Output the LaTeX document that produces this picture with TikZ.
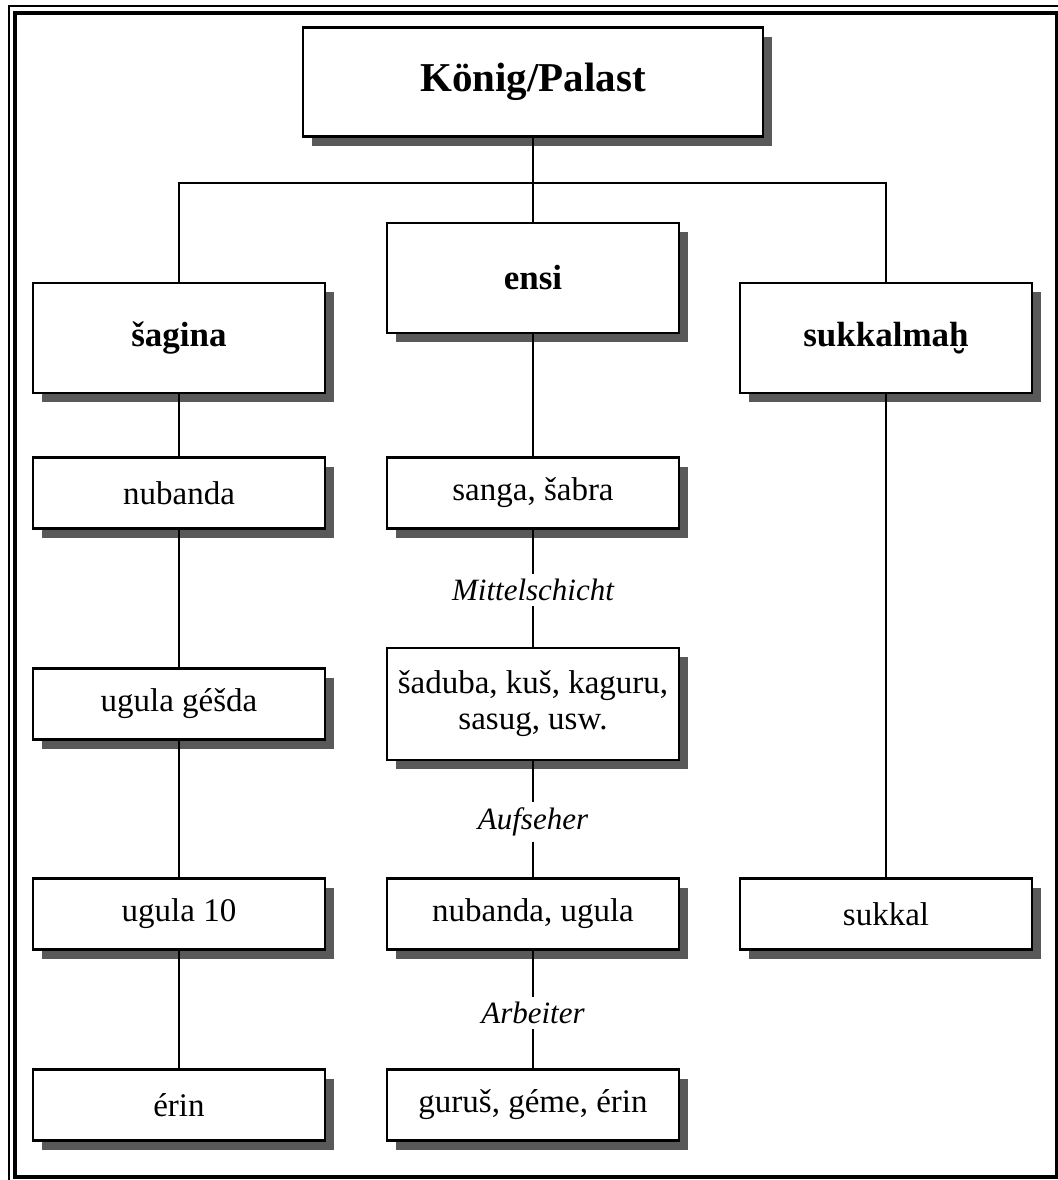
\documentclass[tikz,border=0pt]{standalone}
\usepackage{fontspec}
\setmainfont{Liberation Serif}
\usepackage{tikz}
\usetikzlibrary{shadows}

\begin{document}
\begin{tikzpicture}[
x=0.5pt, y=-0.5pt,
box/.style={draw, line width=1.4pt, fill=white, align=center, minimum width=146pt, minimum height=35.5pt, inner sep=2pt,
  font=\fontsize{16.5}{18}\selectfont,
  drop shadow={shadow xshift=4.5pt, shadow yshift=-4.5pt, fill=black!65, opacity=1}},
head/.style={box, minimum height=55pt, font=\fontsize{17.5}{20}\selectfont\bfseries},
layer/.style={inner sep=2.5pt, font=\fontsize{15.5}{18}\selectfont\itshape},
link/.style={line width=1.1pt}
]
\useasboundingbox (0,0) rectangle (1058,1180);
\draw[line width=0.8pt] (9,1180) -- (9,6) -- (1058,6);
\draw[line width=2pt] (15,13) rectangle (1057,1177);

\node[head, minimum width=230pt, minimum height=54.5pt, font=\fontsize{20.5}{24}\selectfont\bfseries] (koenig) at (533,82) {König/Palast};
\coordinate (fork) at (533,183);
\node[head] (sagina) at (179,338) {šagina};
\node[head] (ensi) at (533,278) {ensi};
\node[head] (sukkalmah) at (886,338) {sukkalmaḫ};

\node[box] (nubanda) at (179,493) {nubanda};
\node[box] (sanga) at (533,493) {sanga, šabra};
\node[layer] (mittel) at (533,590) {Mittelschicht};
\node[box] (ugulagesda) at (179,704) {ugula géšda};
\node[box, minimum height=56pt] (saduba) at (533,704) {šaduba, kuš, kaguru,\\ sasug, usw.};
\node[layer] (aufseher) at (533,822) {Aufseher};
\node[box] (ugulazehn) at (179,914) {ugula 10};
\node[box] (nubandaugula) at (533,914) {nubanda, ugula};
\node[box] (sukkal) at (886,914) {sukkal};
\node[layer] (arbeiter) at (533,1013) {Arbeiter};
\node[box] (erin) at (179,1105) {érin};
\node[box] (gurus) at (533,1105) {guruš, géme, érin};

\draw[link] (koenig) -- (fork);
\draw[link] (sagina) |- (fork) -| (sukkalmah);
\draw[link] (ensi) -- (ensi |- fork);
\draw[link] (sagina) -- (nubanda) -- (ugulagesda) -- (ugulazehn) -- (erin);
\draw[link] (ensi) -- (sanga) -- (mittel) -- (saduba) -- (aufseher) -- (nubandaugula) -- (arbeiter) -- (gurus);
\draw[link] (sukkalmah) -- (sukkal);
\end{tikzpicture}
\end{document}
